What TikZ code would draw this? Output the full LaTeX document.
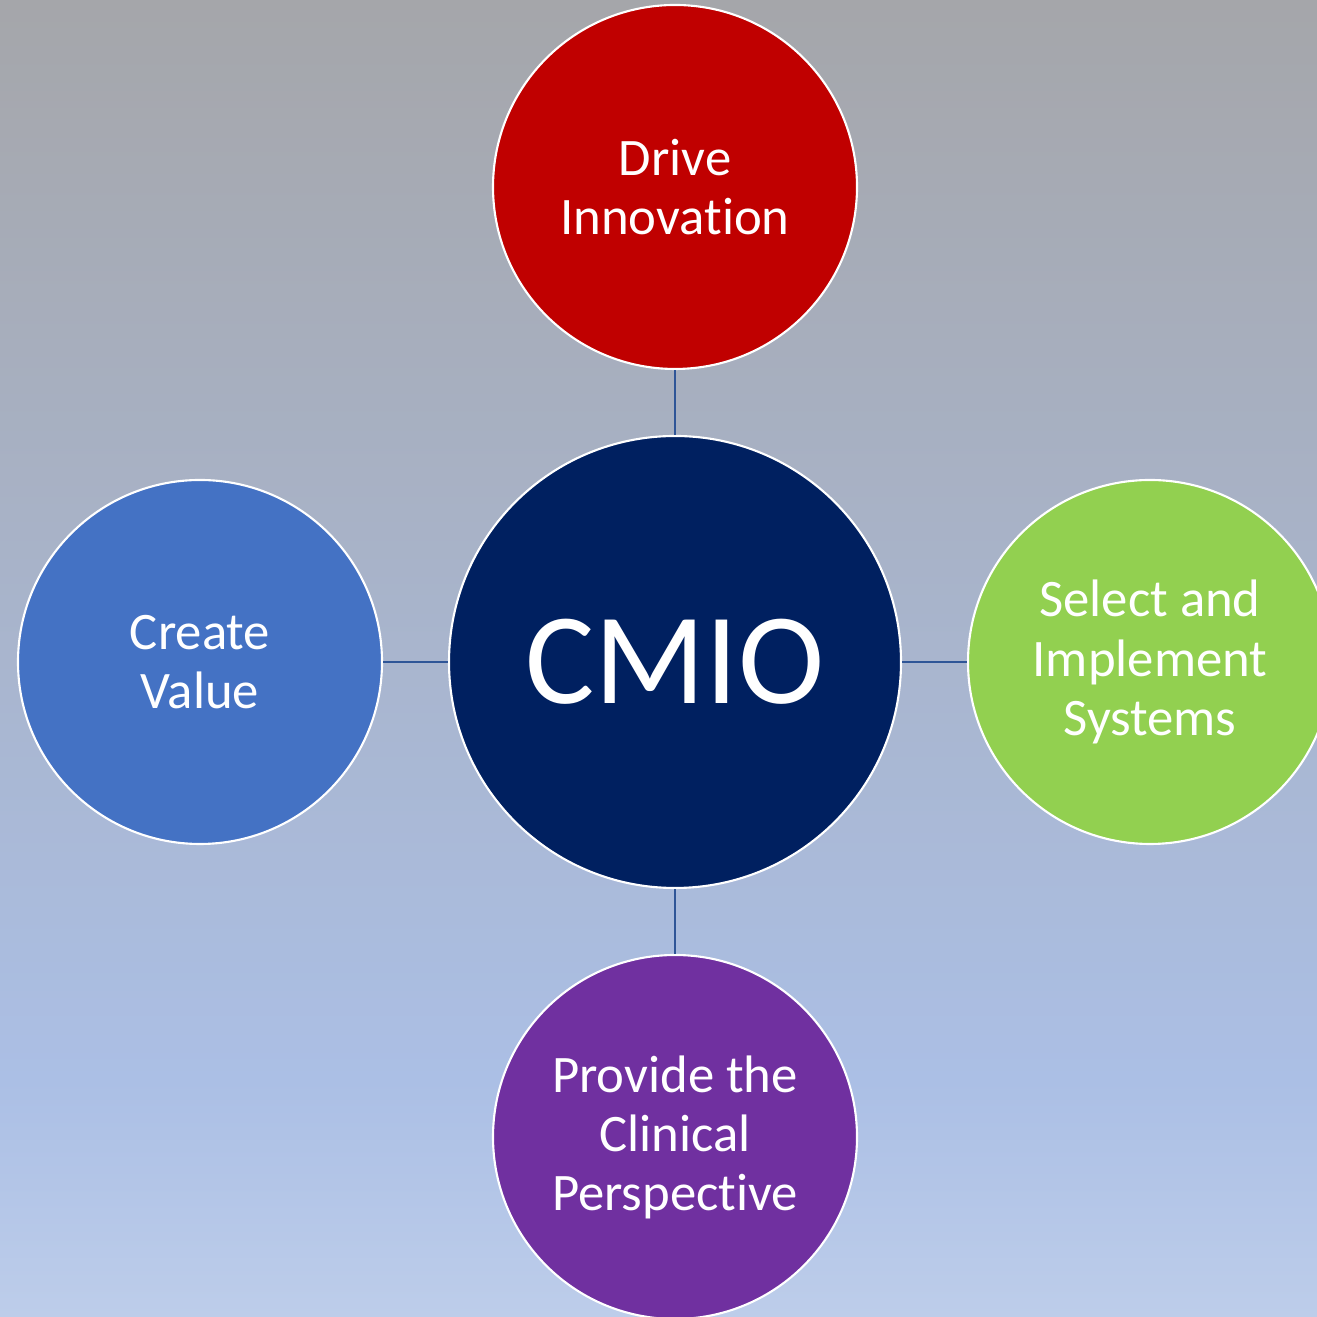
\documentclass[tikz,border=0pt]{standalone}
\usepackage{fontspec}
\setmainfont{Carlito}[Ligatures=NoCommon]
\definecolor{bgtop}{RGB}{165,166,170}
\definecolor{bgblue}{RGB}{171,191,229}
\definecolor{bgbot}{RGB}{189,205,234}
\definecolor{navy}{RGB}{0,32,96}
\definecolor{cred}{RGB}{192,0,0}
\definecolor{cblue}{RGB}{68,114,196}
\definecolor{cgreen}{RGB}{146,208,80}
\definecolor{cpurple}{RGB}{112,48,160}
\definecolor{connc}{RGB}{47,85,151}
\pgfdeclareverticalshading{bgshade}{100bp}{color(0bp)=(bgbot); color(25bp)=(bgbot); color(34bp)=(bgblue); color(75bp)=(bgtop); color(100bp)=(bgtop)}
\tikzset{
  bubble/.style={circle, draw=white, line width=0.6pt, minimum size=3.64cm, inner sep=0pt,
    text=white, align=center, font=\fontsize{15}{16.8}\selectfont},
  hub/.style={circle, draw=white, line width=0.6pt, minimum size=4.52cm, inner sep=0pt,
    fill=navy, text=white, font=\fontsize{37}{40}\selectfont},
  conn/.style={draw=connc, line width=0.8pt}
}
\begin{document}
\begin{tikzpicture}
\useasboundingbox (0,0) rectangle (13.17,13.17);
\shade[shading=bgshade] (0,0) rectangle (13.17,13.17);
\begin{scope}
\clip (0,0) rectangle (13.17,13.17);
\node[hub] (cmio) at (6.75,6.55) {CMIO};
\node[bubble, fill=cred] (top) at (6.75,11.30) {Drive\\Innovation};
\node[bubble, fill=cblue] (left) at (2.00,6.55) {Create\\Value};
\node[bubble, fill=cgreen] (right) at (11.50,6.55) {Select and\\Implement\\Systems};
\node[bubble, fill=cpurple] (bottom) at (6.75,1.80) {Provide the\\Clinical\\Perspective};
\draw[conn] (cmio) -- (top);
\draw[conn] (cmio) -- (left);
\draw[conn] (cmio) -- (right);
\draw[conn] (cmio) -- (bottom);
\end{scope}
\end{tikzpicture}
\end{document}
